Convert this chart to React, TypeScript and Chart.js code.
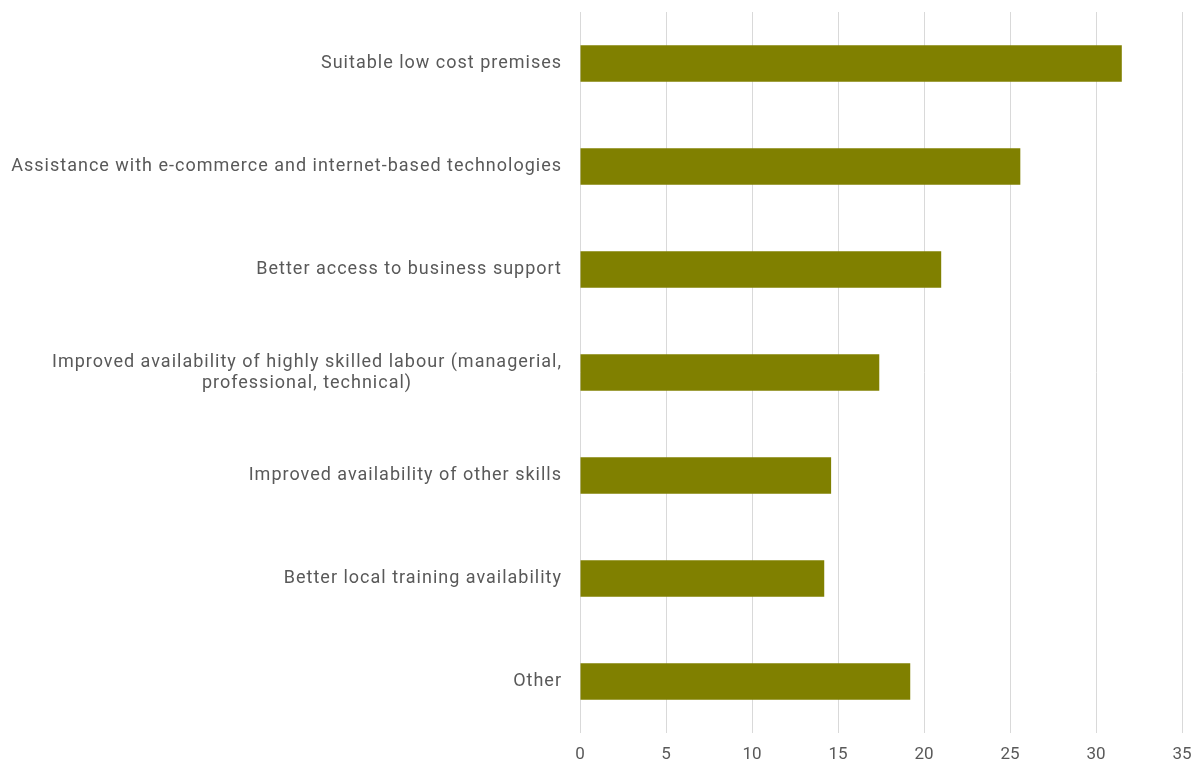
import React, { useEffect, useRef } from "react";
import { Chart, registerables } from "chart.js";

Chart.register(...registerables);

const categories: (string | string[])[] = [
  "Suitable low cost premises",
  "Assistance with e-commerce and internet-based technologies",
  "Better access to business support",
  ["Improved availability of highly skilled labour (managerial,", "professional, technical)"],
  "Improved availability of other skills",
  "Better local training availability",
  "Other",
];
const values = [31.5, 25.6, 21.0, 17.4, 14.6, 14.2, 19.2];
const xTicks = [0, 5, 10, 15, 20, 25, 30, 35];

const FONT = "Roboto, 'Liberation Sans', Arial, sans-serif";
const TEXT = "#595959";

const labelPlugin = {
  id: "centeredLabels",
  afterDraw(chart: any) {
    const ctx = chart.ctx;
    const yScale = chart.scales.y;
    const right = chart.chartArea.left - 18;
    ctx.save();
    ctx.font = `18px ${FONT}`;
    (ctx as any).letterSpacing = "1px";
    ctx.fillStyle = TEXT;
    ctx.textAlign = "center";
    ctx.textBaseline = "middle";
    const lineH = 21;
    categories.forEach((lab, i) => {
      const lines = Array.isArray(lab) ? lab : [lab];
      const w = Math.max(...lines.map((l) => ctx.measureText(l).width));
      const cx = right - w / 2;
      const cy = yScale.getPixelForTick(i);
      const start = cy - ((lines.length - 1) * lineH) / 2;
      lines.forEach((l, j) => ctx.fillText(l, cx, start + j * lineH));
    });
    ctx.restore();
  },
};

export default function App() {
  const ref = useRef<HTMLCanvasElement>(null);
  useEffect(() => {
    if (!ref.current) return;
    const chart = new Chart(ref.current, {
      type: "bar",
      data: {
        labels: categories as any,
        datasets: [
          {
            data: values,
            backgroundColor: "#808000",
            borderWidth: 0,
            categoryPercentage: 1,
            barPercentage: 0.355,
          },
        ],
      },
      options: {
        indexAxis: "y",
        animation: false,
        responsive: true,
        maintainAspectRatio: false,
        layout: { padding: { top: 4, right: 13, bottom: 0, left: 0 } },
        plugins: { legend: { display: false }, tooltip: { enabled: false } },
        scales: {
          x: {
            min: 0,
            max: 35,
            afterBuildTicks: (s: any) => {
              s.ticks = xTicks.map((v) => ({ value: v }));
            },
            afterFit: (s: any) => {
              s.height = 26;
              s.paddingLeft = 0;
              s.paddingRight = 0;
            },
            grid: { color: "#d9d9d9", lineWidth: 1, drawTicks: false },
            border: { display: false },
            ticks: {
              padding: 12,
              color: TEXT,
              font: { family: FONT, size: 17 },
            },
          },
          y: {
            grid: { display: false, drawTicks: false },
            border: { display: false },
            afterFit: (s: any) => {
              s.width = 572;
            },
            ticks: { display: false },
          },
        },
      },
      plugins: [labelPlugin],
    });
    return () => chart.destroy();
  }, []);
  return (
    <div style={{ width: 1187, height: 751, position: "relative" }}>
      <canvas ref={ref} />
    </div>
  );
}
